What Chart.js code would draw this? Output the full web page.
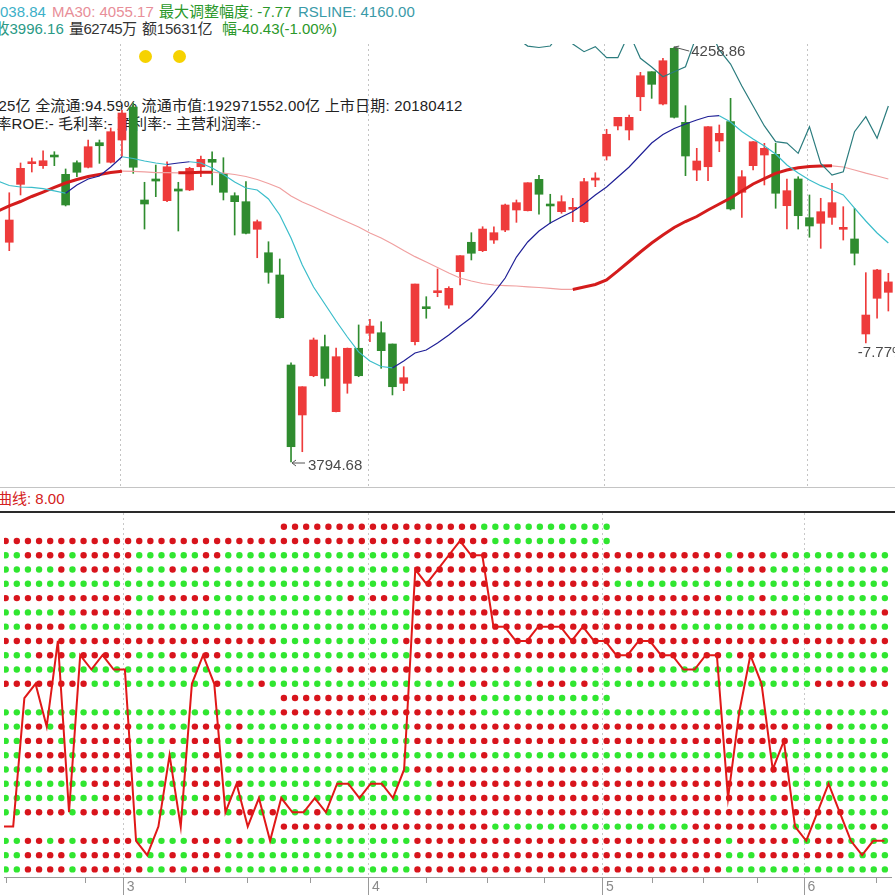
<!DOCTYPE html>
<html><head><meta charset="utf-8">
<script src="https://cdn.jsdelivr.net/npm/chart.js@4.4.1/dist/chart.umd.min.js"></script>
<style>
html,body{margin:0;padding:0;background:#fff;width:895px;height:895px;overflow:hidden;}
#wrap{position:relative;width:895px;height:895px;overflow:hidden;background:#fff;}
.t{position:absolute;white-space:nowrap;font-family:"Liberation Sans","Noto Sans CJK SC",sans-serif;font-size:15px;line-height:15px;}
canvas{position:absolute;left:0;}
.dot{position:absolute;width:13px;height:13px;border-radius:50%;background:#f6d200;}
</style></head>
<body><div id="wrap">
<div class="t" style="left:0;top:4px;color:#3cb0c8">038.84</div>
<div class="t" style="left:52px;top:4px;color:#e88e98">MA30: 4055.17</div>
<div class="t" style="left:159px;top:4px;color:#2a982a">最大调整幅度: -7.77</div>
<div class="t" style="left:298px;top:4px;color:#3a9aa8">RSLINE: 4160.00</div>
<div class="t" style="left:-5.5px;top:21px;color:#2a9a86">收3996.16</div>
<div class="t" style="left:69px;top:21px;color:#333;letter-spacing:-0.6px">量62745万</div>
<div class="t" style="left:142px;top:21px;color:#333;letter-spacing:-0.2px">额15631亿</div>
<div class="t" style="left:222px;top:21px;color:#2a982a">幅-40.43(-1.00%)</div>
<div class="dot" style="left:139px;top:50px"></div>
<div class="dot" style="left:173px;top:50px"></div>
<div class="t" style="left:-1.5px;top:98px;color:#222;letter-spacing:0.2px">25亿 全流通:94.59% 流通市值:192971552.00亿 上市日期: 20180412</div>
<div class="t" style="left:-3.5px;top:116px;color:#222;letter-spacing:0.1px">率ROE:- 毛利率:- 净利率:- 主营利润率:-</div>
<div style="position:absolute;left:0;top:487px;width:895px;height:1px;background:#c4c4c4"></div>
<div class="t" style="left:-3px;top:491px;color:#d42020">曲线: 8.00</div>
<div style="position:absolute;left:0;top:511px;width:895px;height:2px;background:#2a2a2a"></div>
<canvas id="top" width="895" height="488" style="top:0;width:895px;height:488px"></canvas>
<canvas id="bot" width="895" height="407" style="top:488px;width:895px;height:407px"></canvas>
</div>
<script>
// ---------- data ----------
const OPEN = [null,4040.5,4105.3,4128.4,4126.2,4138.1,4116.5,4129.5,4124.4,4151.9,
 4130.0,4154.9,4191.8,4087.8,4111.3,4087.0,4100.1,4099.0,4125.0,4133.3,
 4117.6,4092.6,4085.9,4055.0,4028.8,4003.9,3903.2,3847.3,3891.2,3923.7,
 3851.0,3882.7,3921.9,3938.7,3939.3,3926.7,3882.7,3929.3,3968.4,3984.1,
 3970.3,4007.6,4040.5,4031.1,4043.0,4054.2,4076.6,4075.8,4110.9,4083.3,
 4074.7,4077.4,4063.5,4110.1,4137.0,4170.6,4166.1,4203.3,4231.3,4195.2,
 4257.5,4174.7,4121.3,4125.0,4153.8,4175.4,4096.4,4126.2,4138.1,4138.9,
 4081.4,4111.3,4068.0,4061.7,4068.4,4055.0,4044.2,3937.9,3977.8,3984.5];
const HIGH = [null,4095.9,4129.2,4134.8,4142.9,4141.8,4122.5,4131.7,4154.9,4154.9,
 4168.3,4188.5,4196.3,4107.6,4126.9,4130.6,4107.6,4124.4,4137.0,4141.8,
 4135.1,4095.9,4108.3,4065.4,4041.1,4021.8,3905.5,3878.9,3933.4,3936.8,
 3922.2,3922.2,3948.0,3954.3,3951.6,3926.7,3901.3,3993.8,3979.6,4010.6,
 3990.8,4025.5,4051.2,4057.9,4057.9,4083.3,4087.8,4107.1,4115.4,4094.2,
 4092.6,4089.7,4112.1,4118.3,4166.9,4180.3,4182.9,4230.6,4231.3,4246.3,
 4258.86,4193.3,4145.6,4169.8,4171.7,4201.5,4120.6,4153.0,4151.2,4151.2,
 4111.3,4113.8,4093.4,4089.7,4106.5,4080.3,4078.5,4006.5,4010.3,4005.8];
const LOW = [null,4031.1,4093.4,4119.1,4123.2,4126.2,4081.1,4113.8,4123.6,4128.8,
 4129.2,4136.2,4117.6,4055.3,4091.5,4085.9,4053.1,4098.2,4113.8,4104.6,
 4087.8,4048.6,4049.8,4023.2,3994.6,3955.5,3794.68,3806.2,3890.1,3879.7,
 3850.6,3871.6,3890.1,3929.3,3899.5,3869.7,3874.5,3925.6,3955.5,3979.6,
 3966.6,3992.7,4020.7,4030.0,4039.3,4052.3,4062.8,4075.5,4071.8,4061.7,
 4072.9,4063.5,4062.4,4102.7,4132.5,4166.1,4154.9,4187.7,4201.5,4194.1,
 4179.5,4115.0,4109.4,4109.4,4141.8,4076.6,4068.4,4121.3,4104.6,4078.5,
 4055.3,4055.3,4046.1,4033.7,4060.6,4043.0,4015.1,3927.9,3955.5,3963.6];
const CLOSE = [null,4065.4,4123.2,4130.6,4131.7,4135.9,4082.2,4118.8,4147.4,4148.5,
 4164.2,4185.1,4124.4,4083.3,4109.0,4125.0,4097.8,4123.2,4133.3,4130.0,
 4096.4,4085.9,4050.5,4063.5,4006.9,3956.1,3811.8,3878.9,3931.2,3888.3,
 3912.5,3921.9,3891.2,3946.8,3919.2,3878.9,3889.0,3993.8,3966.2,3986.3,
 3989.0,4025.5,4028.2,4055.3,4051.2,4082.2,4084.8,4107.1,4094.2,4081.1,
 4085.9,4079.6,4108.3,4112.4,4161.3,4180.3,4180.3,4226.8,4217.2,4243.6,
 4180.3,4137.0,4131.4,4169.8,4162.4,4077.7,4113.8,4153.0,4145.6,4095.3,
 4098.2,4070.2,4058.7,4074.7,4084.8,4057.2,4028.2,3959.1,4009.5,3996.16];
const MA10 = [4109.0,4104.0,4102.3,4102.0,4100.6,4097.9,4095.3,4104.6,4111.3,4114.6,
 4124.7,4136.2,4134.2,4131.4,4129.2,4127.5,4129.2,4130.6,4129.2,4123.6,
 4116.3,4107.9,4101.2,4099.0,4088.9,4071.0,4045.3,4015.1,3990.5,3971.4,
 3952.4,3934.5,3917.8,3907.7,3901.5,3899.9,3907.7,3916.6,3920.0,3927.8,
 3936.8,3946.8,3956.3,3969.2,3983.8,4000.5,4024.0,4040.8,4053.1,4062.1,
 4068.8,4074.9,4083.3,4093.4,4102.3,4113.5,4124.7,4138.1,4151.5,4161.0,
 4167.8,4172.8,4177.3,4181.2,4182.1,4175.0,4164.4,4156.0,4148.2,4139.2,
 4126.9,4118.0,4110.1,4103.8,4099.0,4093.4,4078.8,4064.3,4050.9,4039.7];
const MA30 = [4075.5,4081.1,4086.1,4091.7,4096.7,4101.8,4106.8,4110.7,4114.1,4116.3,
 4118.5,4120.0,4119.8,4119.3,4118.5,4118.3,4118.2,4118.4,4118.7,4118.9,
 4117.8,4116.3,4114.1,4110.7,4106.2,4101.2,4092.3,4085.5,4080.3,4074.4,
 4068.8,4063.2,4057.6,4050.9,4045.3,4038.6,4031.3,4024.4,4018.4,4012.3,
 4006.1,4000.5,3997.2,3994.4,3992.7,3992.1,3991.6,3990.7,3989.9,3989.0,
 3987.9,3987.7,3990.5,3993.3,3998.3,4008.4,4019.0,4029.6,4039.7,4048.6,
 4057.0,4063.7,4069.3,4076.6,4083.3,4090.0,4097.8,4105.7,4111.8,4117.6,
 4121.3,4123.9,4125.3,4125.8,4126.0,4124.7,4121.3,4117.8,4114.6,4111.3];
const RSLINE = [null,null,null,null,null,null,null,null,null,null,
 null,null,null,null,null,null,null,null,null,null,
 null,null,null,null,null,null,null,null,null,null,
 null,null,null,null,null,null,null,null,null,null,
 null,null,null,null,null,null,4269.0,4260.0,4258.4,4260.0,
 4277.9,4262.3,4253.7,4259.3,4247.0,4247.0,4274.6,4246.3,4236.6,4225.7,
 4231.3,4236.9,4272.3,4283.5,4255.6,4239.9,4215.3,4192.9,4170.6,4153.0,
 4151.5,4140.0,4169.8,4128.8,4115.7,4119.4,4164.2,4181.0,4156.8,4192.9];
const CURVE = [3,3,12,13,10,16,4,15,14,15,
 14,14,2,1,3,8,3,13,15,13,
 4,6,3,5,2,5,4,4,5,4,
 6,6,5,6,6,5,7,21,20,21,
 22,23,22,22,17,17,16,16,17,17,
 17,16,17,16,16,15,15,16,16,15,
 15,14,14,15,15,5,11,15,13,7,
 9,3,2,4,6,4,2,1,2,2];
// dot grid rows, top row first, run-length: r=red, g=green, .=empty
const DOT_ROWS = [
 "25.18r12g25.",
 "44r11g25.",
 "2g4r1g5r6g2r17g28r1g3r1g1r9g",
 "5g1r1g5r3g1r1g2r18g28r1g3r11g",
 "37g18r25g",
 "12r2g5r12g1r1g2r2g28r3g1r11g",
 "5g1r1g5r25g34r8g1r",
 "2g4r31g24r19g",
 "25r11g44r",
 "3g3r1g5r3g1r1g3r17g28r1g3r11g",
 "30g16r11g2r21g",
 "8r11g1r3g1r17g1r1g1r4g3r1g1r20g7r",
 "25.18r12g25.",
 "25g18r37g",
 "2g2r1g1r1g5r5g3r1g1r15g34r3g1r5g",
 "2g3r2g5r3g1r1g3r1g1r15g34r9g",
 "2g4r1g5r6g2r1g1r21g1r36g",
 "4g2r1g5r5g3r17g34r9g",
 "8g4r5g3r1g1r17g32r9g",
 "9g3r6g2r19g30r1g1r9g",
 "2g4r1g5r5g3r1g2r1g1r3g1r8g39r4g",
 "25.19r18g7r9g1r1g",
 "2g2r1g1r1g5r5g3r1g1r15g28r1g5r2g3r4g",
 "2g4r1g5r3g1r1g3r17g28r3g8r4g",
 "2g4r1g6r2g1r1g3r17g28r15g"
];
const MONTH_TICKS = [10.9, 32.85, 53.8, 71.85];
const AXIS_TICKS = [0.4, 7.5, 10.9, 16.4, 22, 27.6, 32.85, 38, 43.5, 48.6, 53.8, 58.2, 62.8, 67.6, 71.85, 78.3];
const AXIS_LABELS = ['', '', '3', '', '', '', '4', '', '', '', '5', '', '', '', '6', ''];
const LOW_MARK = 26, HIGH_MARK = 60, DROP_MARK = 77;
const DROP_TEXT = '-7.77%';

// ---------- colours ----------
const RED = '#ee3b3b', GREEN = '#2f8c2f';
const NAVY = '#1f1f96', CYAN = '#3bbdca';
const MA30_UP = '#d41c1c', MA30_DN = '#f0a0a0';

const idx = MA10.map((_, k) => k);
const candles = idx.filter(k => OPEN[k] != null);
const isUp = k => CLOSE[k] >= OPEN[k];
const candleColors = candles.map(k => isUp(k) ? RED : GREEN);

const annot = {
  id: 'annot',
  afterDatasetsDraw(chart) {
    const {ctx, scales: {x, y}} = chart;
    ctx.save();
    ctx.strokeStyle = '#555'; ctx.fillStyle = '#4a4a4a'; ctx.lineWidth = 1;
    ctx.font = '15px "Liberation Sans", "DejaVu Sans", sans-serif';
    ctx.textBaseline = 'middle'; ctx.textAlign = 'left';
    // low
    let px = x.getPixelForValue(LOW_MARK), py = y.getPixelForValue(LOW[LOW_MARK]) + 1;
    ctx.beginPath(); ctx.moveTo(px + 1, py); ctx.lineTo(px + 14, py);
    ctx.moveTo(px + 1, py); ctx.lineTo(px + 5, py - 3);
    ctx.moveTo(px + 1, py); ctx.lineTo(px + 5, py + 3); ctx.stroke();
    ctx.fillText(LOW[LOW_MARK].toFixed(2), px + 17, py + 3);
    // high
    px = x.getPixelForValue(HIGH_MARK); py = y.getPixelForValue(HIGH[HIGH_MARK]);
    ctx.beginPath(); ctx.moveTo(px, py); ctx.lineTo(px + 15, py + 4);
    ctx.moveTo(px, py); ctx.lineTo(px + 3, py + 4);
    ctx.moveTo(px, py); ctx.lineTo(px + 5, py - 1); ctx.stroke();
    ctx.fillText(HIGH[HIGH_MARK].toFixed(2), px + 17, py + 5);
    // drop
    px = x.getPixelForValue(DROP_MARK); py = y.getPixelForValue(LOW[DROP_MARK]);
    ctx.fillText(DROP_TEXT, px - 8, py + 10);
    ctx.restore();
  }
};

new Chart(document.getElementById('top'), {
  type: 'bar',
  data: {
    datasets: [
      {type: 'line', data: idx.map(k => ({x: k, y: RSLINE[k]})), borderColor: '#2b7c7e', borderWidth: 1.2,
       pointRadius: 0, tension: 0, order: 0},
      {type: 'line', data: idx.map(k => ({x: k, y: MA10[k]})), borderColor: CYAN, borderWidth: 1.2,
       pointRadius: 0, tension: 0, order: 0,
       segment: {borderColor: c => c.p1.parsed.y >= c.p0.parsed.y ? NAVY : CYAN}},
      {type: 'line', data: idx.map(k => ({x: k, y: MA30[k]})), borderColor: MA30_DN, borderWidth: 1.2,
       pointRadius: 0, tension: 0, order: 0,
       segment: {borderColor: c => c.p1.parsed.y >= c.p0.parsed.y ? MA30_UP : MA30_DN,
                 borderWidth: c => c.p1.parsed.y >= c.p0.parsed.y ? 3 : 1.2}},
      {data: candles.map(k => ({x: k, y: [LOW[k], HIGH[k]]})), backgroundColor: candleColors,
       barThickness: 1, grouped: false, borderWidth: 0, order: 3},
      {data: candles.map(k => ({x: k, y: [OPEN[k], CLOSE[k]]})), backgroundColor: candleColors,
       barThickness: 8, grouped: false, borderWidth: 0, order: 2}
    ]
  },
  options: {
    responsive: false, animation: false, events: [],
    layout: {padding: {top: 44, left: 0, right: 0, bottom: 0}},
    plugins: {legend: {display: false}, tooltip: {enabled: false}},
    scales: {
      x: {type: 'linear', min: 0.1775, max: 79.59, offset: false,
          afterBuildTicks: s => { s.ticks = MONTH_TICKS.map(v => ({value: v})); },
          afterFit: s => { s.height = 0; },
          ticks: {display: false},
          border: {display: false, dash: [2, 3]},
          grid: {offset: false, color: '#c4c4c4', lineWidth: 1, drawTicks: false}},
      y: {type: 'linear', min: 3765.6, max: 4262.3, display: false}
    }
  },
  plugins: [annot]
});

function expand(rle) {
  let s = '';
  rle.replace(/(\d+)([rg.])/g, (m, n, c) => { s += c.repeat(+n); return m; });
  return s;
}
const redPts = [], greenPts = [];
DOT_ROWS.forEach((rle, r) => {
  const s = expand(rle);
  for (let i = 0; i < s.length; i++) {
    if (s[i] === 'r') redPts.push({x: i, y: 24 - r});
    else if (s[i] === 'g') greenPts.push({x: i, y: 24 - r});
  }
});

new Chart(document.getElementById('bot'), {
  type: 'scatter',
  data: {
    datasets: [
      {type: 'line', data: CURVE.map((v, k) => ({x: k, y: v})), xAxisID: 'x', borderColor: '#e01818',
       borderWidth: 2, pointRadius: 0, tension: 0, order: 0},
      {data: redPts, xAxisID: 'xd', backgroundColor: '#d8141c', pointRadius: 3.2, borderWidth: 0, order: 1},
      {data: greenPts, xAxisID: 'xd', backgroundColor: '#30e630', pointRadius: 3.2, borderWidth: 0, order: 1}
    ]
  },
  options: {
    responsive: false, animation: false, events: [],
    layout: {padding: {top: 25, left: 0, right: 0, bottom: 0}},
    plugins: {legend: {display: false}, tooltip: {enabled: false}},
    scales: {
      x: {type: 'linear', position: 'bottom', min: 0.1775, max: 79.59, offset: false,
          afterBuildTicks: s => { s.ticks = AXIS_TICKS.map(v => ({value: v})); },
          afterFit: s => { s.height = 18; },
          ticks: {autoSkip: false, maxRotation: 0, minRotation: 0, align: 'start', labelOffset: 3, padding: -16,
                  color: '#8a8a8a', font: {family: 'Liberation Sans', size: 14},
                  callback: (v, i) => AXIS_LABELS[i]},
          grid: {offset: false, color: c => AXIS_LABELS[c.index] ? '#c8c8c8' : 'rgba(0,0,0,0)',
                 tickColor: '#9a9a9a', tickLength: 18,
                 tickBorderDash: c => AXIS_LABELS[c.index] ? [] : [5, 40]},
          border: {display: true, color: '#9a9a9a', width: 1, dash: [2, 3]}},
      xd: {type: 'linear', display: false, min: -0.151, max: 79.55},
      y: {type: 'linear', display: false, min: -0.531, max: 24.959}
    }
  }
});
</script>
</body></html>
